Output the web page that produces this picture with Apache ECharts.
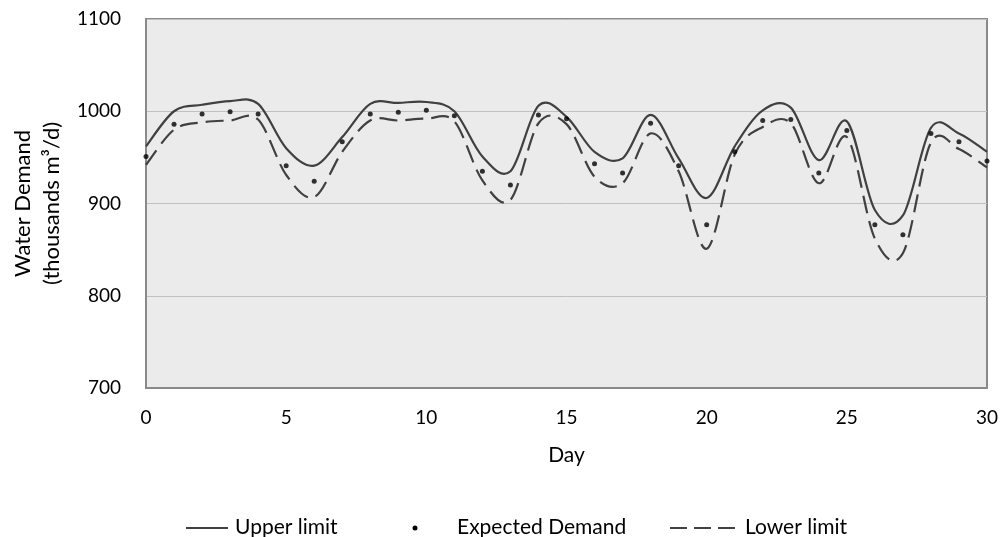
<!DOCTYPE html>
<html>
<head>
<meta charset="utf-8">
<script src="https://cdn.jsdelivr.net/npm/echarts@6/dist/echarts.min.js"></script>
<style>
html,body{margin:0;padding:0;background:#fff;}
#chart{width:1003px;height:537px;}
</style>
</head>
<body>
<div id="chart"></div>
<script>
const days = [0,1,2,3,4,5,6,7,8,9,10,11,12,13,14,15,16,17,18,19,20,21,22,23,24,25,26,27,28,29,30];
const upperLimit = [962,1000,1007,1011,1008,960,941,972,1008,1009,1010,1000,951,935,1006,994,956,949,996,949,906,962,1001,1004,947,989,893,887,982,976,956];
const expectedDemand = [951,986,997,999.5,997,941,924,967,997,999,1001,995,935,920,996,992,943,933,987,941,877,956,990,991,933,979,877,866,976,967,946];
const lowerLimit = [942,980,988,990,991,931,907,956,990,990,992,989,925,904,987,986,929,922,976,935,851,953,983,987,922,972,862,846,966,959,939];
const xTicks = [0,5,10,15,20,25,30];
const yTicks = [700,800,900,1000,1100];
const seriesNames = ['Upper limit','Expected Demand','Lower limit'];

const FONT = 'Lato';
const chart = echarts.init(document.getElementById('chart'), null, {renderer:'canvas'});
const pair = arr => days.map((d,i)=>[d, arr[i]]);

// Smooth (Catmull-Rom style) curve through the data, positioned with the axes' own scales
function smoothCurve(arr, lineStyle){
  return function(params, api){
    if (params.dataIndex !== 0) return null;
    const p = days.map((d,i)=>api.coord([d, arr[i]]));
    const n = p.length;
    let d = 'M' + p[0][0] + ' ' + p[0][1];
    for (let i=0;i<n-1;i++){
      const p0 = p[Math.max(i-1,0)], p1 = p[i], p2 = p[i+1], p3 = p[Math.min(i+2,n-1)];
      const c1x = p1[0] + (p2[0]-p0[0])/6, c1y = p1[1] + (p2[1]-p0[1])/6;
      const c2x = p2[0] - (p3[0]-p1[0])/6, c2y = p2[1] - (p3[1]-p1[1])/6;
      d += ' C' + c1x + ' ' + c1y + ' ' + c2x + ' ' + c2y + ' ' + p2[0] + ' ' + p2[1];
    }
    return {type:'path', shape:{pathData:d}, style:Object.assign({fill:null}, lineStyle)};
  };
}

chart.setOption({
  animation:false,
  textStyle:{fontFamily:FONT},
  grid:{left:145,right:16,top:19,bottom:149,show:true,backgroundColor:'#ebebeb',borderColor:'#8a8a8a',borderWidth:2},
  xAxis:{
    type:'value',min:xTicks[0],max:xTicks[xTicks.length-1],interval:5,
    name:'Day',nameLocation:'middle',nameGap:57,
    nameTextStyle:{fontFamily:FONT,fontSize:21,color:'#000'},
    axisLine:{show:true,lineStyle:{color:'#8a8a8a',width:2}},
    axisTick:{show:false},
    axisLabel:{fontFamily:FONT,fontSize:19,color:'#000',margin:20},
    splitLine:{show:false}
  },
  yAxis:{
    type:'value',min:yTicks[0],max:yTicks[yTicks.length-1],interval:100,
    name:'Water Demand\n(thousands m\u00B3/d)',nameLocation:'middle',nameGap:80,
    nameTextStyle:{fontFamily:FONT,fontSize:22,color:'#000',lineHeight:29},
    axisLine:{show:true,lineStyle:{color:'#8a8a8a',width:2}},
    axisTick:{show:false},
    axisLabel:{fontFamily:FONT,fontSize:19,color:'#000',margin:25,formatter:v=>String(v)},
    splitLine:{show:true,lineStyle:{color:'#c0c0c0',width:1}}
  },
  series:[
    {name:seriesNames[0],type:'custom',data:pair(upperLimit),encode:{x:0,y:1},z:3,
     renderItem:smoothCurve(upperLimit,{stroke:'#404040',lineWidth:2.2})},
    {name:seriesNames[2],type:'custom',data:pair(lowerLimit),encode:{x:0,y:1},z:3,
     renderItem:smoothCurve(lowerLimit,{stroke:'#404040',lineWidth:2.2,lineDash:[18,8]})},
    {name:seriesNames[1],type:'scatter',data:pair(expectedDemand),symbol:'circle',symbolSize:5,
     itemStyle:{color:'#000'},z:4}
  ],
  graphic:[
    {type:'line',shape:{x1:186,y1:528,x2:228,y2:528},style:{stroke:'#404040',lineWidth:2.2}},
    {type:'text',left:235,top:517,style:{text:seriesNames[0],font:'21px '+FONT,fill:'#000'}},
    {type:'circle',shape:{cx:415,cy:528,r:2.5},style:{fill:'#000'}},
    {type:'text',left:457,top:517,style:{text:seriesNames[1],font:'21px '+FONT,fill:'#000'}},
    {type:'line',shape:{x1:670,y1:528,x2:738,y2:528},style:{stroke:'#404040',lineWidth:2.2,lineDash:[17,7]}},
    {type:'text',left:745,top:517,style:{text:seriesNames[2],font:'21px '+FONT,fill:'#000'}}
  ]
});
</script>
</body>
</html>
